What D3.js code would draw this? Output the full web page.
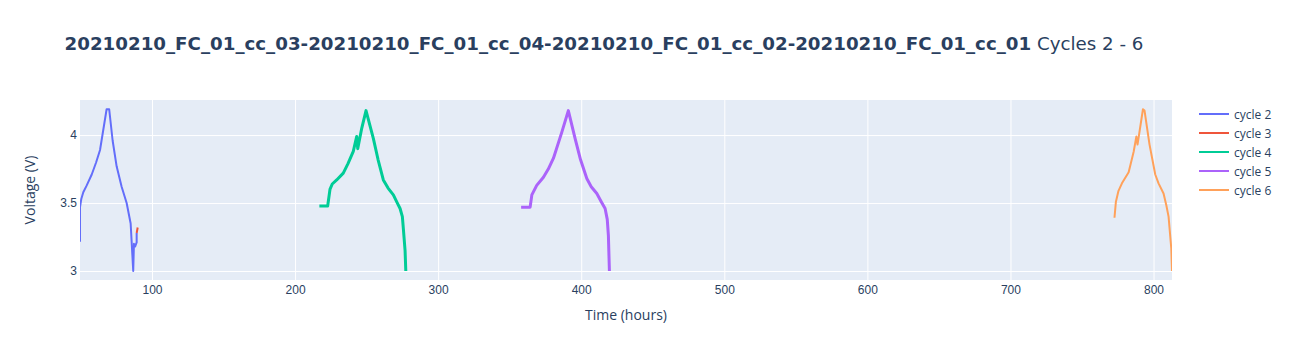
<!DOCTYPE html>
<html>
<head>
<meta charset="utf-8">
<script src="https://cdn.jsdelivr.net/npm/d3@7"></script>
<style>
  body { margin: 0; background: #fff; }
  svg { font-family: "Open Sans", verdana, arial, sans-serif; }
  .grid line { stroke: #fff; stroke-width: 1; }
  .axis text { fill: #2a3f5f; font-size: 12px; }
</style>
</head>
<body>
<svg width="1293" height="360"></svg>
<script>
const titleBold = "20210210_FC_01_cc_03-20210210_FC_01_cc_04-20210210_FC_01_cc_02-20210210_FC_01_cc_01";
const titleRest = " Cycles 2 - 6";

const cycleNames = ["cycle 2", "cycle 3", "cycle 4", "cycle 5", "cycle 6"];
const cycleColors = ["#636efa", "#EF553B", "#00cc96", "#ab63fa", "#FFA15A"];

// time in hours, voltage in V
const cycle2Time = [49.7, 49.7, 50.6, 52.0, 54.4, 57.9, 61.0, 63.7, 68.3, 70.1, 72.5, 75.3, 78.8, 82.3, 85.1, 86.9, 87.4, 88.2, 89.3, 89.3];
const cycle2Volt = [3.215, 3.47, 3.53, 3.58, 3.63, 3.71, 3.80, 3.89, 4.19, 4.19, 3.96, 3.77, 3.62, 3.50, 3.35, 3.0, 3.20, 3.18, 3.21, 3.28];

const cycle3Time = [89.3, 90.0];
const cycle3Volt = [3.28, 3.32];

const cycle4Time = [217.0, 222.8, 224.4, 226.0, 229.1, 233.7, 237.0, 240.7, 243.1, 243.8, 246.6, 249.6, 254.7, 258.0, 261.7, 265.0, 268.7, 271.5, 273.4, 275.0, 275.7, 276.9, 277.4];
const cycle4Volt = [3.478, 3.478, 3.60, 3.64, 3.67, 3.72, 3.79, 3.88, 3.99, 3.90, 4.05, 4.18, 3.976, 3.82, 3.67, 3.61, 3.56, 3.50, 3.46, 3.40, 3.31, 3.15, 3.0];

const cycle5Time = [358.0, 364.3, 365.5, 368.9, 373.6, 377.0, 380.6, 386.4, 391.0, 395.7, 399.5, 403.9, 407.0, 410.9, 414.0, 416.7, 418.2, 419.0, 419.7];
const cycle5Volt = [3.47, 3.47, 3.56, 3.63, 3.69, 3.75, 3.83, 4.02, 4.18, 3.976, 3.82, 3.68, 3.62, 3.57, 3.51, 3.46, 3.38, 3.26, 3.0];

const cycle6Time = [772.7, 773.7, 775.5, 777.9, 782.6, 786.1, 788.0, 788.8, 792.6, 793.7, 797.2, 801.2, 803.5, 807.0, 809.0, 810.5, 812.4, 812.9];
const cycle6Volt = [3.392, 3.51, 3.59, 3.645, 3.726, 3.877, 3.99, 3.93, 4.19, 4.18, 3.93, 3.71, 3.645, 3.57, 3.48, 3.40, 3.167, 3.0];

const xTicks = [100, 200, 300, 400, 500, 600, 700, 800];
const yTicks = [3, 3.5, 4];

function loaded() {
  const svg = d3.select("svg"),
    margin = { top: 100, right: 121, bottom: 80, left: 80 },
    width = +svg.attr("width") - margin.left - margin.right,
    height = +svg.attr("height") - margin.top - margin.bottom,
    x = d3.scaleLinear().domain([49.7, 812.9]).range([0, width]),
    y = d3.scaleLinear().domain([2.934, 4.258]).range([height, 0]),
    g = svg.append("g").attr("transform", `translate(${margin.left},${margin.top})`);

  const series = [
    { time: cycle2Time, volt: cycle2Volt, w: 2 },
    { time: cycle3Time, volt: cycle3Volt, w: 2 },
    { time: cycle4Time, volt: cycle4Volt, w: 3 },
    { time: cycle5Time, volt: cycle5Volt, w: 3 },
    { time: cycle6Time, volt: cycle6Volt, w: 2 },
  ].map((s, i) => ({
    name: cycleNames[i],
    color: cycleColors[i],
    width: s.w,
    points: s.time.map((t, j) => [t, s.volt[j]]),
  }));

  g.append("rect")
    .attr("width", width)
    .attr("height", height)
    .attr("fill", "#E5ECF6");

  // grid
  g.append("g")
    .attr("class", "grid")
    .attr("transform", `translate(0,${height})`)
    .call(d3.axisBottom(x).tickValues(xTicks).tickSize(-height).tickFormat(""))
    .call((s) => s.select(".domain").remove());
  g.append("g")
    .attr("class", "grid")
    .call(d3.axisLeft(y).tickValues(yTicks).tickSize(-width).tickFormat(""))
    .call((s) => s.select(".domain").remove());

  // tick labels
  g.append("g")
    .attr("class", "axis axis-x")
    .attr("transform", `translate(0,${height})`)
    .call(d3.axisBottom(x).tickValues(xTicks).tickSize(0).tickPadding(5).tickFormat(d3.format("d")))
    .call((s) => s.select(".domain").remove());
  g.append("g")
    .attr("class", "axis axis-y")
    .call(d3.axisLeft(y).tickValues(yTicks).tickSize(0).tickPadding(3).tickFormat((d) => String(d)))
    .call((s) => s.select(".domain").remove());

  const line = d3.line()
    .x((d) => x(d[0]))
    .y((d) => y(d[1]));

  g.append("defs").append("clipPath").attr("id", "clip")
    .append("rect").attr("width", width).attr("height", height);

  g.append("g")
    .attr("clip-path", "url(#clip)")
    .selectAll(".line")
    .data(series)
    .enter()
    .append("path")
    .attr("class", "line")
    .attr("d", (d) => line(d.points))
    .attr("fill", "none")
    .attr("stroke", (d) => d.color)
    .attr("stroke-width", (d) => d.width)
    .attr("stroke-linejoin", "round");

  // titles
  const title = svg.append("text")
    .attr("x", 64.6)
    .attr("y", 50)
    .attr("fill", "#2a3f5f")
    .style("font-family", "'DejaVu Sans', verdana, sans-serif")
    .style("font-size", "17px");
  title.append("tspan").attr("font-weight", "bold").text(titleBold);
  title.append("tspan").text(titleRest);

  // the reference title runs to about x = 1144
  const tw = title.node().getComputedTextLength();
  title.style("font-size", `${(17 * 1079) / tw}px`);

  svg.append("text")
    .attr("x", margin.left + width / 2)
    .attr("y", 320)
    .attr("text-anchor", "middle")
    .attr("fill", "#2a3f5f")
    .style("font-size", "14px")
    .text("Time (hours)");

  svg.append("text")
    .attr("transform", `translate(35,${margin.top + height / 2}) rotate(-90)`)
    .attr("text-anchor", "middle")
    .attr("fill", "#2a3f5f")
    .style("font-size", "14px")
    .text("Voltage (V)");

  // legend
  const legend = svg.append("g")
    .attr("transform", "translate(1199,114)")
    .selectAll(".legend-item")
    .data(series)
    .enter()
    .append("g")
    .attr("class", "legend-item")
    .attr("transform", (d, i) => `translate(0,${i * 19})`);

  legend.append("line")
    .attr("x1", 0)
    .attr("x2", 30)
    .attr("stroke", (d) => d.color)
    .attr("stroke-width", 2);

  legend.append("text")
    .attr("x", 35)
    .attr("y", 4.5)
    .attr("fill", "#2a3f5f")
    .style("font-size", "12px")
    .text((d) => d.name);
}

loaded();
</script>
</body>
</html>
